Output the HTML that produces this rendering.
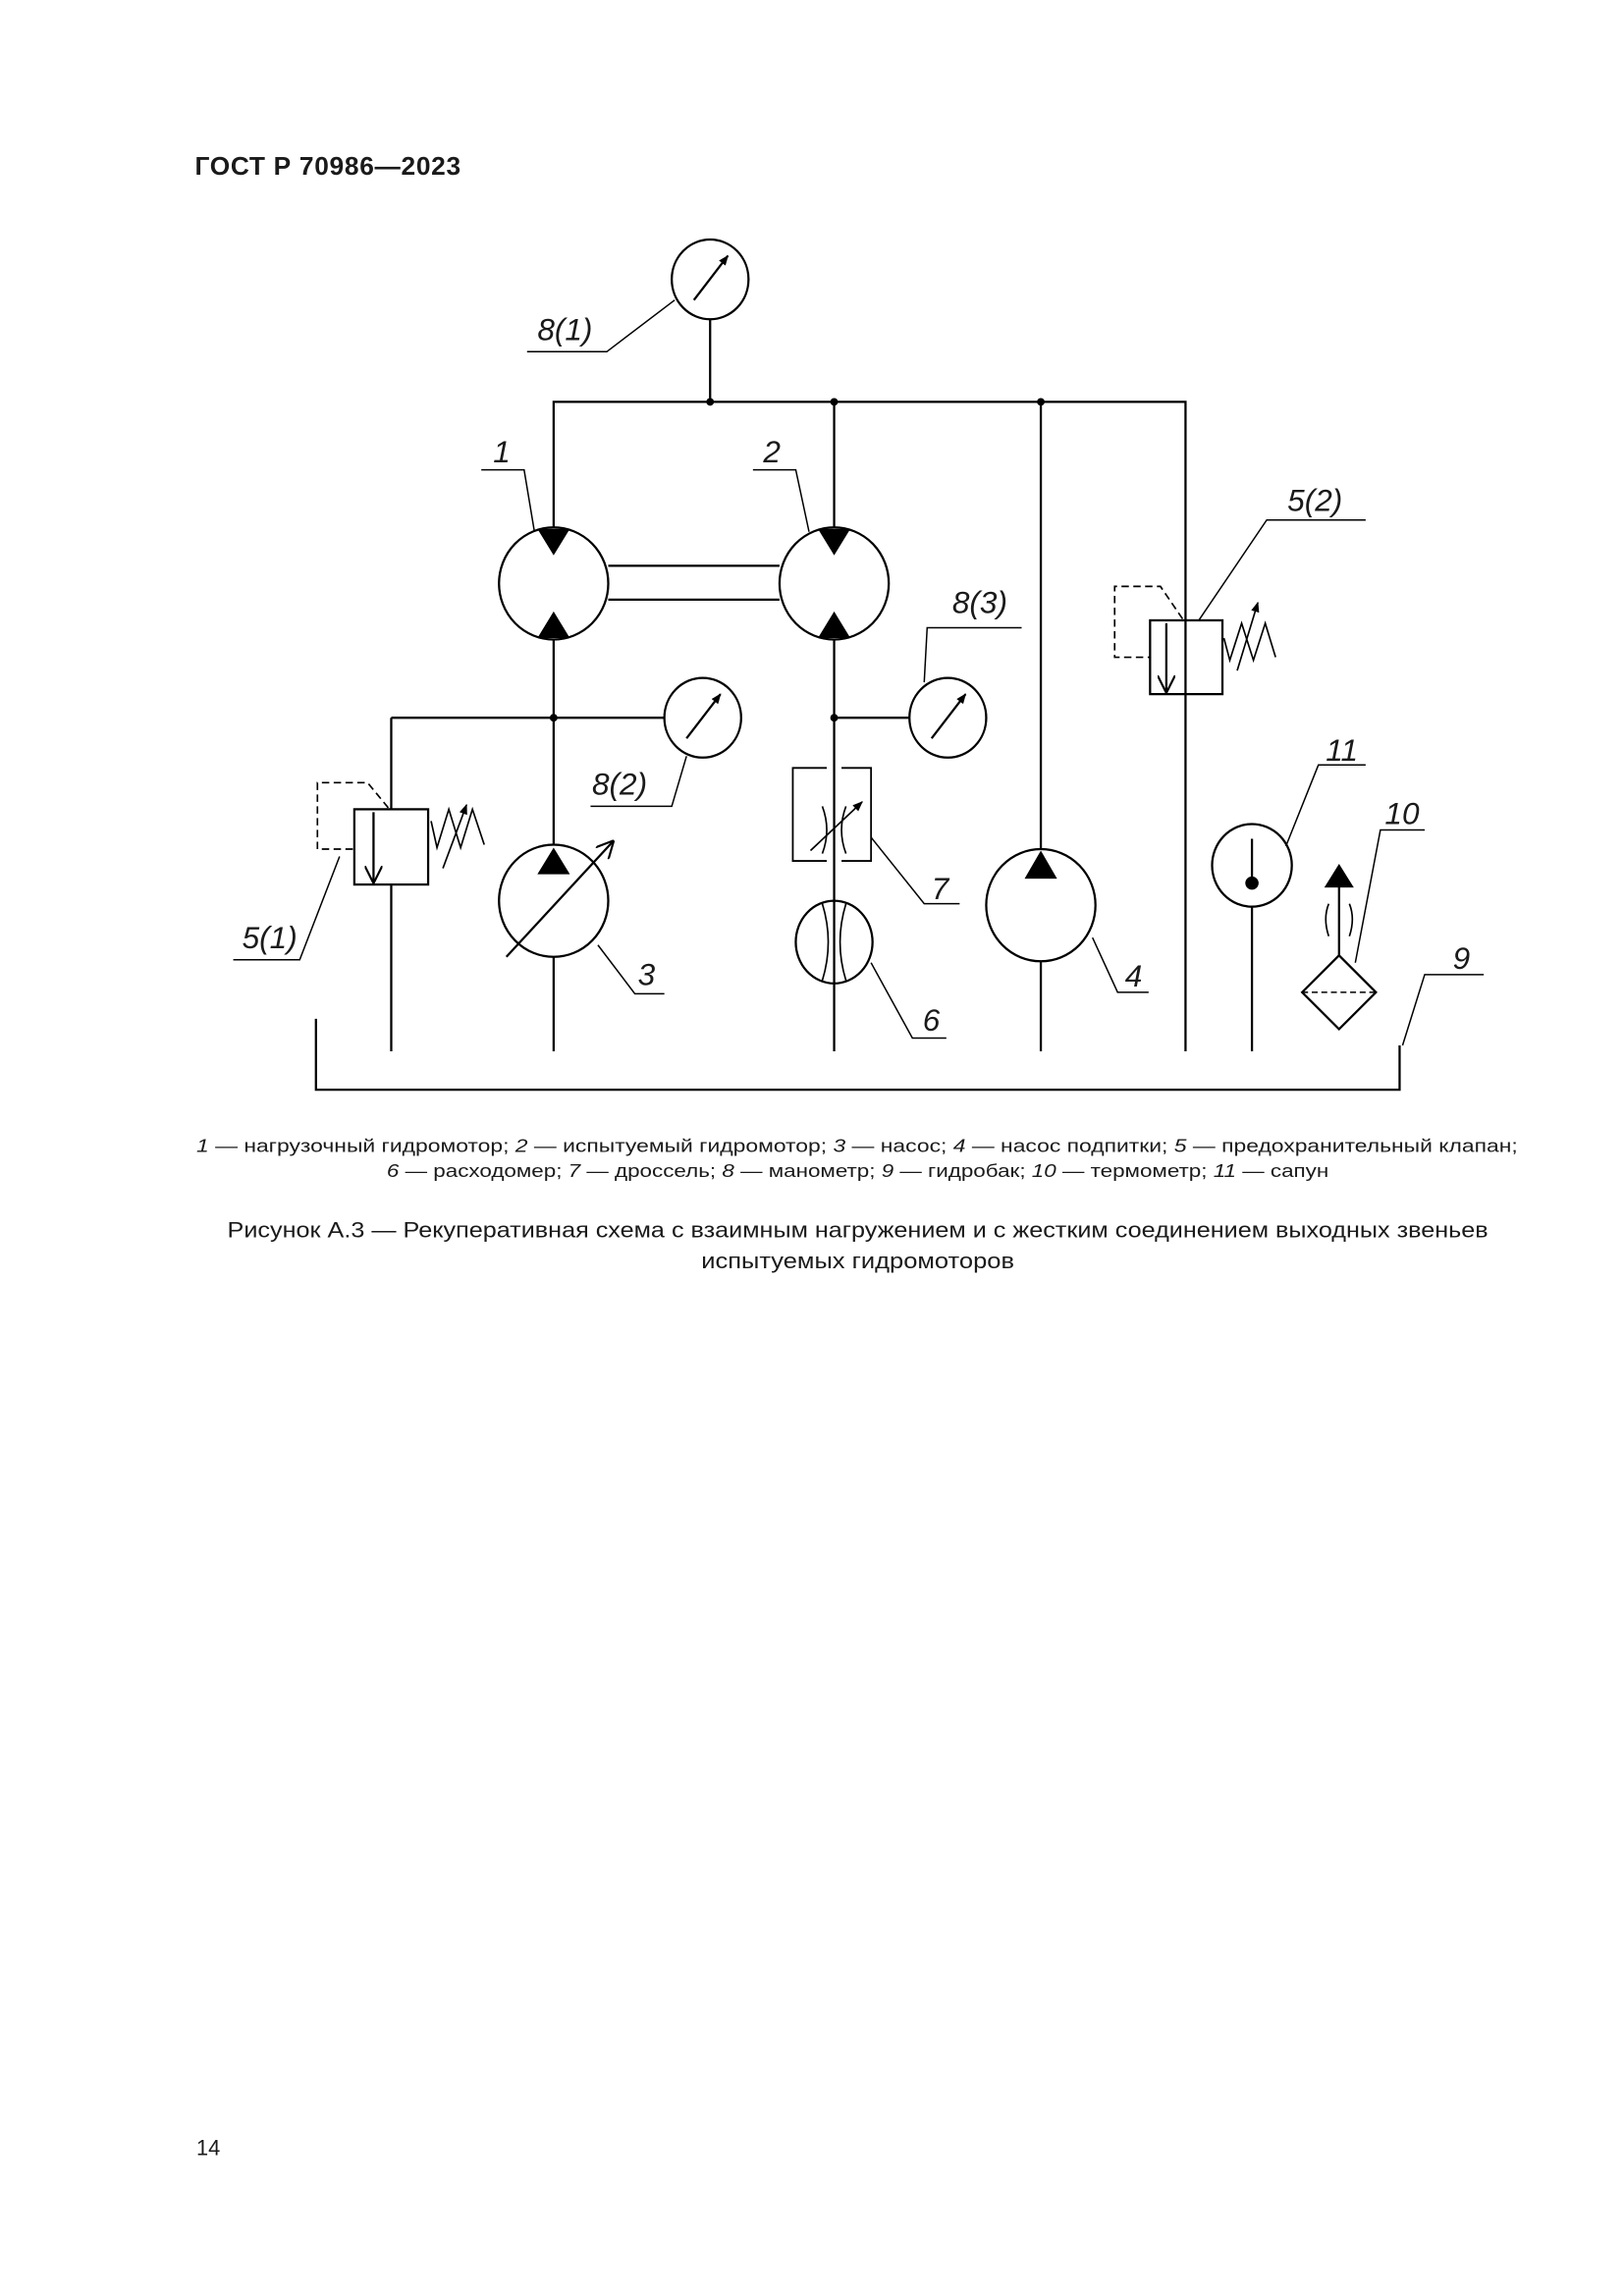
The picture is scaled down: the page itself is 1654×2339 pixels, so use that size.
<!DOCTYPE html>
<html><head><meta charset="utf-8"><style>
html,body{margin:0;padding:0;background:#fff}
svg{display:block}
text{font-family:"Liberation Sans","DejaVu Sans",sans-serif;fill:#1a1a1a}
</style></head><body>
<svg width="1654" height="2339" viewBox="0 0 1100 1555" xmlns="http://www.w3.org/2000/svg">
<defs>
<marker id="ah" viewBox="0 0 10 10" refX="9" refY="5" markerWidth="7" markerHeight="7" orient="auto" markerUnits="userSpaceOnUse"><path d="M0,1 L10,5 L0,9 Z" fill="#000"/></marker>
<marker id="ao" viewBox="0 0 10 10" refX="9" refY="5" markerWidth="12" markerHeight="12" orient="auto" markerUnits="userSpaceOnUse"><path d="M0,0 L10,5 L0,10" fill="none" stroke="#000" stroke-width="1.2"/></marker>
</defs>
<text x="132" y="118" font-size="17.5" font-weight="bold" textLength="180">ГОСТ Р 70986—2023</text>

<g stroke="#000" stroke-width="1.5" fill="none">
<ellipse cx="481" cy="189" rx="26" ry="27"/>
<line x1="470" y1="203" x2="493" y2="173" marker-end="url(#ah)"/>
<line x1="481" y1="216" x2="481" y2="272"/>
<polyline points="357,238 411,238 457,203" stroke-width="1"/>
<polyline points="375,357 375,272 803,272 803,712"/>
<line x1="565" y1="272" x2="565" y2="357"/>
<line x1="705" y1="272" x2="705" y2="575"/>
<ellipse cx="375" cy="395" rx="37" ry="38"/>
<ellipse cx="565" cy="395" rx="37" ry="38"/>
<line x1="412" y1="383" x2="528" y2="383"/>
<line x1="412" y1="406" x2="528" y2="406"/>
<polyline points="326,318 355,318 362,360" stroke-width="1"/>
<polyline points="510,318 539,318 548,360" stroke-width="1"/>
<line x1="375" y1="433" x2="375" y2="572"/>
<line x1="375" y1="648" x2="375" y2="712"/>
<line x1="265" y1="486" x2="450" y2="486"/>
<ellipse cx="476" cy="486" rx="26" ry="27"/>
<line x1="465" y1="500" x2="488" y2="470" marker-end="url(#ah)"/>
<polyline points="400,546 455,546 465,512" stroke-width="1"/>
<line x1="265" y1="486" x2="265" y2="548"/>
<line x1="265" y1="599" x2="265" y2="712"/>
<rect x="240" y="548" width="50" height="51"/>
<line x1="253" y1="550" x2="253" y2="597" marker-end="url(#ao)"/>
<polyline points="263,547 249,530 215,530 215,575 240,575" stroke-dasharray="5,3" stroke-width="1.1"/>
<polyline points="292,556 296,574 304,548 312,574 320,548 328,572" stroke-width="1.1"/>
<line x1="300" y1="588" x2="316" y2="545" marker-end="url(#ah)" stroke-width="1.1"/>
<polyline points="158,650 203,650 230,580" stroke-width="1"/>
<ellipse cx="375" cy="610" rx="37" ry="38"/>
<line x1="343" y1="648" x2="415" y2="570" marker-end="url(#ao)"/>
<polyline points="450,673 430,673 405,640" stroke-width="1"/>
<line x1="565" y1="433" x2="565" y2="712"/>
<line x1="565" y1="486" x2="616" y2="486"/>
<ellipse cx="642" cy="486" rx="26" ry="27"/>
<line x1="631" y1="500" x2="654" y2="470" marker-end="url(#ah)"/>
<polyline points="692,425 628,425 626,462" stroke-width="1"/>
<polyline points="560,520 537,520 537,583 560,583" stroke-width="1.2"/>
<polyline points="570,520 590,520 590,583 570,583" stroke-width="1.2"/>
<path d="M557,546 Q563,562 557,578 M573,546 Q567,562 573,578" stroke-width="1.1"/>
<line x1="549" y1="576" x2="584" y2="543" marker-end="url(#ah)" stroke-width="1.1"/>
<polyline points="590,567 626,612 650,612" stroke-width="1"/>
<ellipse cx="565" cy="638" rx="26" ry="28"/>
<path d="M557,612 Q565,638 557,664 M573,612 Q565,638 573,664" stroke-width="1.1"/>
<polyline points="590,652 618,703 641,703" stroke-width="1"/>
<ellipse cx="705" cy="613" rx="37" ry="38"/>
<line x1="705" y1="651" x2="705" y2="712"/>
<polyline points="740,635 757,672 778,672" stroke-width="1"/>
<rect x="779" y="420" width="49" height="50"/>
<line x1="790" y1="422" x2="790" y2="468" marker-end="url(#ao)"/>
<polyline points="801,419 786,397 755,397 755,445 779,445" stroke-dasharray="5,3" stroke-width="1.1"/>
<polyline points="829,432 833,447 841,422 849,447 857,422 864,445" stroke-width="1.1"/>
<line x1="838" y1="454" x2="852" y2="408" marker-end="url(#ah)" stroke-width="1.1"/>
<polyline points="812,420 858,352 925,352" stroke-width="1"/>
<ellipse cx="848" cy="586" rx="27" ry="28"/>
<line x1="848" y1="568" x2="848" y2="597"/>
<line x1="848" y1="614" x2="848" y2="712"/>
<polyline points="871,573 893,518 925,518" stroke-width="1"/>
<polygon points="907,647 932,672 907,697 882,672"/>
<line x1="882" y1="672" x2="932" y2="672" stroke-dasharray="4,2.5" stroke-width="1"/>
<line x1="907" y1="647" x2="907" y2="600"/>
<path d="M900,612 Q896,622 900,634 M914,612 Q918,622 914,634" stroke-width="1.1"/>
<polyline points="918,652 935,562 965,562" stroke-width="1"/>
<polyline points="214,690 214,738 948,738 948,708"/>
<polyline points="950,708 965,660 1005,660" stroke-width="1"/>
</g>
<g fill="#000">
<circle cx="481" cy="272" r="2.6"/><circle cx="565" cy="272" r="2.6"/><circle cx="705" cy="272" r="2.6"/>
<circle cx="375" cy="486" r="2.6"/><circle cx="565" cy="486" r="2.6"/>
<circle cx="848" cy="598" r="4.5"/>
<polygon points="364,358 386,358 375,376"/>
<polygon points="364,432 386,432 375,414"/>
<polygon points="554,358 576,358 565,376"/>
<polygon points="554,432 576,432 565,414"/>
<polygon points="375,574 364,592 386,592"/>
<polygon points="705,576 694,595 716,595"/>
<polygon points="907,585 897,601 917,601"/>
</g>
<g font-style="italic" font-size="21">
<text x="364" y="230">8(1)</text>
<text x="334" y="313">1</text>
<text x="517" y="313">2</text>
<text x="872" y="346">5(2)</text>
<text x="645" y="415">8(3)</text>
<text x="401" y="538">8(2)</text>
<text x="898" y="515">11</text>
<text x="938" y="558">10</text>
<text x="164" y="642">5(1)</text>
<text x="631" y="609">7</text>
<text x="432" y="667">3</text>
<text x="762" y="668">4</text>
<text x="625" y="698">6</text>
<text x="984" y="656">9</text>
</g>
<text x="133" y="780" font-size="12.5" textLength="895" lengthAdjust="spacingAndGlyphs"><tspan font-style="italic">1</tspan> — нагрузочный гидромотор; <tspan font-style="italic">2</tspan> — испытуемый гидромотор; <tspan font-style="italic">3</tspan> — насос; <tspan font-style="italic">4</tspan> — насос подпитки; <tspan font-style="italic">5</tspan> — предохранительный клапан;</text>
<text x="262" y="797" font-size="12.5" textLength="638" lengthAdjust="spacingAndGlyphs"><tspan font-style="italic">6</tspan> — расходомер; <tspan font-style="italic">7</tspan> — дроссель; <tspan font-style="italic">8</tspan> — манометр; <tspan font-style="italic">9</tspan> — гидробак; <tspan font-style="italic">10</tspan> — термометр; <tspan font-style="italic">11</tspan> — сапун</text>
<text x="154" y="838" font-size="14.5" textLength="854" lengthAdjust="spacingAndGlyphs">Рисунок А.3 — Рекуперативная схема с взаимным нагружением и с жестким соединением выходных звеньев</text>
<text x="475" y="859" font-size="14.5" textLength="212" lengthAdjust="spacingAndGlyphs">испытуемых гидромоторов</text>
<text x="133" y="1460" font-size="14.5">14</text>
</svg>
</body></html>
